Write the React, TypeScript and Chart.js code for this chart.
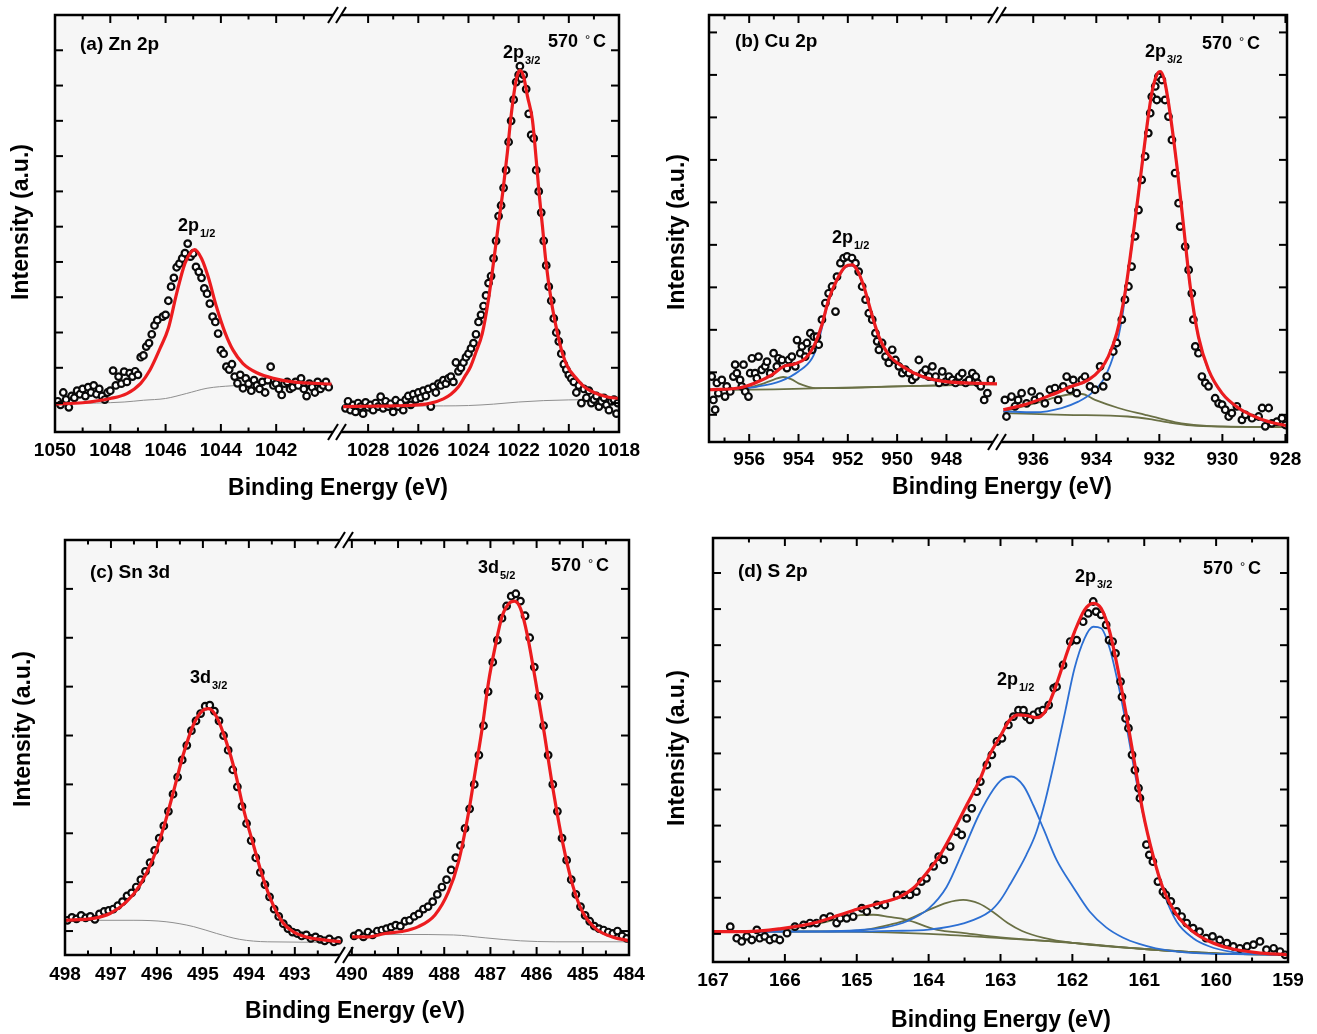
import React, { useEffect, useRef } from 'react';
import { Chart, registerables } from 'chart.js';

Chart.register(...registerables);

type P = [number, number];

// ===================== (a) Zn 2p =====================
const A_XLABELS_L = [1050, 1048, 1046, 1044, 1042];
const A_XLABELS_R = [1028, 1026, 1024, 1022, 1020, 1018];
const A_YTICKS = [0, 1, 2, 3, 4, 5, 6, 7, 8, 9, 10, 11];

const A_SCATTER_L: P[] = [
  [1049.9, 0.05], [1049.8, -0.05], [1049.7, 0.3], [1049.6, 0.1], [1049.5, -0.12], [1049.4, 0.2], [1049.3, 0.15],
  [1049.2, 0.35], [1049.1, 0.25], [1049.0, 0.4], [1048.9, 0.2], [1048.8, 0.45], [1048.7, 0.3], [1048.6, 0.5],
  [1048.5, 0.25], [1048.4, 0.4], [1048.3, 0.2], [1048.2, 0.1], [1048.1, 0.3], [1048.0, 0.35], [1047.9, 0.92],
  [1047.8, 0.5], [1047.7, 0.75], [1047.6, 0.55], [1047.5, 0.89], [1047.4, 0.6], [1047.3, 0.85], [1047.2, 0.75],
  [1047.1, 0.9], [1047.0, 0.8], [1046.9, 1.3], [1046.8, 1.35], [1046.7, 1.6], [1046.6, 1.7], [1046.5, 1.95],
  [1046.4, 2.2], [1046.3, 2.35], [1046.1, 2.45], [1046.0, 2.5], [1045.9, 2.9], [1045.8, 3.3], [1045.7, 3.55],
  [1045.6, 3.85], [1045.5, 3.95], [1045.4, 4.1], [1045.3, 4.25], [1045.2, 4.52], [1045.1, 4.15], [1045.0, 4.24],
  [1044.9, 3.86], [1044.8, 3.72], [1044.7, 3.55], [1044.6, 3.25], [1044.5, 3.1], [1044.4, 2.82], [1044.3, 2.45],
  [1044.2, 2.3], [1044.1, 1.97], [1044.0, 1.5], [1043.9, 1.4], [1043.8, 1.03], [1043.7, 0.95], [1043.6, 1.1],
  [1043.5, 0.75], [1043.4, 0.56], [1043.3, 0.8], [1043.2, 0.42], [1043.1, 0.7], [1043.0, 0.55], [1042.9, 0.35],
  [1042.8, 0.65], [1042.7, 0.5], [1042.6, 0.4], [1042.5, 0.6], [1042.4, 0.3], [1042.3, 0.65], [1042.2, 1.03],
  [1042.1, 0.5], [1042.0, 0.55], [1041.9, 0.4], [1041.8, 0.23], [1041.7, 0.55], [1041.6, 0.6], [1041.5, 0.4],
  [1041.4, 0.45], [1041.3, 0.6], [1041.2, 0.5], [1041.1, 0.7], [1041.0, 0.4], [1040.9, 0.2], [1040.8, 0.55],
  [1040.7, 0.45], [1040.6, 0.3], [1040.5, 0.6], [1040.4, 0.4], [1040.3, 0.5], [1040.2, 0.6], [1040.1, 0.45],
];
const A_FIT_L: P[] = [
  [1050, -0.03], [1049, 0.01], [1048, 0.13], [1047.4, 0.27], [1046.9, 0.56], [1046.57, 0.93], [1046.2, 1.55],
  [1045.9, 2.12], [1045.6, 3.11], [1045.3, 3.96], [1045.07, 4.29], [1044.95, 4.35], [1044.7, 4.1], [1044.46, 3.58],
  [1044.16, 2.73], [1043.86, 2.02], [1043.56, 1.5], [1043.2, 1.12], [1042.7, 0.86], [1042.1, 0.7], [1041.4, 0.6],
  [1040, 0.54],
];
const A_BG_L: P[] = [
  [1050, -0.02], [1048.5, 0.0], [1047.5, 0.03], [1046.8, 0.08], [1046, 0.13], [1045.25, 0.27], [1044.5, 0.42],
  [1043.6, 0.49], [1042.5, 0.53], [1040, 0.55],
];
const A_SCATTER_R: P[] = [
  [1028.9, -0.15], [1028.8, 0.05], [1028.7, -0.2], [1028.6, -0.05], [1028.5, -0.25], [1028.4, 0.0], [1028.3, -0.1],
  [1028.2, -0.3], [1028.1, 0.02], [1028.0, -0.12], [1027.9, -0.05], [1027.8, -0.2], [1027.7, 0.0], [1027.6, -0.1],
  [1027.5, 0.18], [1027.4, -0.15], [1027.3, 0.05], [1027.2, -0.1], [1027.1, -0.02], [1027.0, -0.25], [1026.9, 0.08],
  [1026.8, -0.1], [1026.7, 0.0], [1026.6, -0.2], [1026.5, 0.1], [1026.4, 0.2], [1026.3, -0.05], [1026.2, 0.25],
  [1026.1, 0.1], [1026.0, 0.3], [1025.9, 0.15], [1025.8, 0.35], [1025.7, 0.2], [1025.6, 0.4], [1025.5, -0.1],
  [1025.4, 0.46], [1025.3, 0.3], [1025.2, 0.55], [1025.1, 0.5], [1025.0, 0.65], [1024.9, 0.55], [1024.8, 0.7],
  [1024.7, 0.75], [1024.6, 0.6], [1024.5, 1.15], [1024.4, 0.9], [1024.3, 1.0], [1024.2, 1.15], [1024.1, 1.3],
  [1024.0, 1.4], [1023.9, 1.55], [1023.8, 1.7], [1023.7, 1.95], [1023.6, 2.3], [1023.5, 2.5], [1023.4, 2.75],
  [1023.3, 3.05], [1023.2, 3.4], [1023.1, 3.6], [1023.0, 4.1], [1022.9, 4.6], [1022.8, 5.3], [1022.7, 5.6],
  [1022.6, 6.1], [1022.5, 6.6], [1022.4, 7.4], [1022.3, 8.0], [1022.2, 8.6], [1022.1, 9.1], [1022.0, 9.3],
  [1021.95, 9.55], [1021.9, 9.2], [1021.8, 9.3], [1021.7, 8.9], [1021.6, 8.2], [1021.5, 7.6], [1021.4, 7.5],
  [1021.3, 6.6], [1021.2, 6.0], [1021.1, 5.4], [1021.0, 4.6], [1020.9, 3.9], [1020.8, 3.3], [1020.7, 2.9],
  [1020.6, 2.4], [1020.5, 2.0], [1020.4, 1.75], [1020.3, 1.4], [1020.2, 1.1], [1020.1, 0.95], [1020.0, 0.8],
  [1019.9, 0.7], [1019.8, 0.6], [1019.7, 0.3], [1019.6, 0.5], [1019.5, 0.0], [1019.4, 0.4], [1019.3, 0.15],
  [1019.2, 0.35], [1019.1, 0.0], [1019.0, 0.1], [1018.9, 0.2], [1018.8, -0.1], [1018.7, 0.05], [1018.6, 0.15],
  [1018.5, -0.05], [1018.4, -0.2], [1018.3, 0.05], [1018.2, 0.1], [1018.1, -0.3], [1018.05, 0.0],
];
const A_FIT_R: P[] = [
  [1029.0, -0.1], [1028.0, -0.09], [1027.0, -0.08], [1026.0, -0.05], [1025.5, 0.0], [1025.0, 0.12], [1024.7, 0.25],
  [1024.4, 0.46], [1024.15, 0.75], [1023.92, 1.03], [1023.7, 1.45], [1023.45, 1.97], [1023.2, 2.95], [1022.99, 4.05],
  [1022.8, 5.1], [1022.63, 5.99], [1022.45, 7.1], [1022.32, 8.02], [1022.15, 8.95], [1022.05, 9.3], [1021.95, 9.43],
  [1021.8, 9.25], [1021.65, 8.7], [1021.45, 8.02], [1021.3, 6.9], [1021.19, 5.99], [1021.05, 5.0], [1020.92, 4.05],
  [1020.7, 2.9], [1020.45, 1.97], [1020.25, 1.4], [1020.05, 1.03], [1019.7, 0.7], [1019.39, 0.46], [1019.0, 0.3],
  [1018.5, 0.18], [1018.0, 0.13],
];
const A_BG_R: P[] = [
  [1029, -0.08], [1025, -0.08], [1024, -0.07], [1023, -0.03], [1022, 0.03], [1021, 0.07], [1020, 0.09], [1018, 0.1],
];

// ===================== (b) Cu 2p =====================
const B_XLABELS_L = [956, 954, 952, 950, 948];
const B_XLABELS_R = [936, 934, 932, 930, 928];
const B_YTICKS = [0, 1, 2, 3, 4, 5, 6, 7, 8, 9];

const B_SCATTER_L: P[] = [
  [957.52, 0.9], [957.45, 0.35], [957.38, 0.12], [957.31, 0.75], [957.25, 0.51], [957.11, 0.82], [956.98, 0.43],
  [956.91, 0.67], [956.77, 0.55], [956.64, 0.9], [956.57, 1.18], [956.5, 0.98], [956.37, 0.82], [956.3, 0.67],
  [956.23, 1.18], [956.16, 0.55], [956.03, 0.43], [955.96, 0.98], [955.89, 1.33], [955.76, 0.98], [955.69, 0.86],
  [955.62, 1.37], [955.49, 1.06], [955.35, 1.14], [955.28, 1.25], [955.15, 0.98], [955.01, 1.45], [954.88, 1.14],
  [954.81, 1.33], [954.67, 1.29], [954.47, 1.1], [954.4, 1.29], [954.27, 1.37], [954.13, 1.14], [954.06, 1.76],
  [953.93, 1.45], [953.86, 1.61], [953.73, 1.37], [953.66, 1.69], [953.52, 1.92], [953.45, 1.53], [953.38, 1.84],
  [953.25, 1.84], [953.18, 1.65], [953.05, 2.24], [952.91, 2.63], [952.78, 2.86], [952.64, 3.02], [952.5, 2.43],
  [952.44, 3.25], [952.3, 3.57], [952.17, 3.69], [952.03, 3.73], [951.83, 3.69], [951.69, 3.57], [951.56, 3.37],
  [951.42, 3.02], [951.28, 2.71], [951.15, 2.39], [951.01, 2.24], [950.88, 1.92], [950.81, 1.73], [950.74, 1.53],
  [950.61, 1.69], [950.47, 1.37], [950.34, 1.22], [950.2, 1.53], [950.07, 1.29], [949.93, 1.14], [949.79, 0.98],
  [949.66, 1.06], [949.52, 0.98], [949.39, 0.82], [949.25, 0.9], [949.12, 1.29], [948.98, 0.98], [948.85, 1.06],
  [948.71, 0.9], [948.57, 1.14], [948.44, 0.9], [948.3, 0.75], [948.17, 1.02], [948.03, 0.78], [947.9, 0.9],
  [947.76, 0.82], [947.63, 0.75], [947.49, 0.9], [947.36, 0.98], [947.22, 0.75], [947.08, 0.82], [946.95, 0.98],
  [946.81, 0.9], [946.74, 0.75], [946.61, 0.67], [946.47, 0.35], [946.34, 0.51], [946.2, 0.82],
];
const B_FIT_L: P[] = [
  [957.63, 0.59], [956.43, 0.63], [955.76, 0.75], [955.08, 0.94], [954.6, 1.14], [954.13, 1.2], [953.72, 1.33],
  [953.38, 1.61], [953.05, 2.12], [952.78, 2.71], [952.44, 3.18], [952.1, 3.49], [951.83, 3.53], [951.62, 3.41],
  [951.35, 3.02], [951.08, 2.47], [950.74, 1.84], [950.34, 1.41], [949.79, 1.14], [948.98, 0.9], [948.03, 0.78],
  [945.95, 0.73],
];
const B_MAIN_L: P[] = [
  [957.63, 0.58], [956.5, 0.61], [955.7, 0.66], [954.7, 0.8], [954.0, 1.02], [953.45, 1.33], [953.2, 1.69],
  [953.05, 2.05], [952.78, 2.68], [952.44, 3.16], [952.1, 3.47], [951.83, 3.51], [951.62, 3.39], [951.35, 3.0],
  [951.08, 2.45], [950.74, 1.82], [950.34, 1.39], [949.79, 1.12], [948.98, 0.88], [948.03, 0.77], [945.95, 0.72],
];
const B_SAT_L: P[] = [
  [957.63, 0.59], [956.6, 0.6], [956.0, 0.64], [955.5, 0.72], [955.0, 0.83], [954.62, 0.89], [954.3, 0.84],
  [954.0, 0.74], [953.6, 0.66], [953.3, 0.63], [952.5, 0.63], [950, 0.67], [945.95, 0.72],
];
const B_BG_L: P[] = [[957.63, 0.58], [955, 0.6], [953, 0.63], [950, 0.67], [945.95, 0.72]];

const B_SCATTER_R: P[] = [
  [936.9, 0.35], [936.85, -0.04], [936.69, 0.43], [936.58, 0.2], [936.48, 0.35], [936.37, 0.51], [936.21, 0.27],
  [936.05, 0.55], [935.95, 0.35], [935.79, 0.43], [935.63, 0.27], [935.47, 0.59], [935.31, 0.63], [935.21, 0.35],
  [935.05, 0.67], [934.94, 0.9], [934.83, 0.59], [934.73, 0.82], [934.62, 0.51], [934.46, 0.82], [934.36, 0.9],
  [934.2, 0.67], [934.04, 0.59], [933.88, 1.14], [933.78, 0.67], [933.67, 0.9], [933.46, 1.49], [933.35, 1.69],
  [933.19, 2.24], [933.09, 2.71], [932.98, 3.02], [932.88, 3.49], [932.77, 4.2], [932.66, 4.82], [932.56, 5.53],
  [932.45, 6.08], [932.35, 6.63], [932.29, 7.1], [932.24, 7.49], [932.13, 7.73], [932.08, 7.41], [932.03, 7.96],
  [931.92, 7.88], [931.82, 7.41], [931.71, 7.02], [931.6, 6.47], [931.5, 5.69], [931.39, 4.98], [931.34, 4.43],
  [931.18, 3.96], [931.07, 3.41], [930.97, 2.86], [930.92, 2.24], [930.86, 1.61], [930.76, 1.45], [930.65, 0.9],
  [930.54, 0.75], [930.44, 0.67], [930.23, 0.39], [930.12, 0.27], [930.01, 0.24], [929.91, 0.12], [929.8, -0.04],
  [929.7, 0.04], [929.54, 0.2], [929.38, -0.12], [929.27, 0.0], [929.06, -0.08], [928.85, -0.04], [928.74, 0.16],
  [928.64, -0.27], [928.53, 0.16], [928.43, -0.2], [928.27, -0.16], [928.11, -0.08], [928.0, -0.24],
];
const B_FIT_R: P[] = [
  [936.95, 0.12], [936.26, 0.24], [935.42, 0.47], [934.78, 0.67], [934.25, 0.82], [933.88, 1.06], [933.62, 1.37],
  [933.35, 1.92], [933.09, 2.86], [932.88, 3.96], [932.66, 5.22], [932.45, 6.47], [932.24, 7.57], [932.08, 8.0],
  [931.97, 8.08], [931.84, 7.88], [931.66, 7.1], [931.44, 5.84], [931.23, 4.43], [931.02, 3.02], [930.76, 1.84],
  [930.44, 1.06], [930.01, 0.51], [929.49, 0.16], [928.85, -0.08], [928.43, -0.18], [927.95, -0.26],
];
const B_MAIN_R: P[] = [
  [936.95, 0.08], [935.95, 0.06], [935.1, 0.16], [934.57, 0.31], [934.15, 0.51], [933.72, 0.9], [933.4, 1.53],
  [933.19, 2.24], [933.05, 3.0], [932.88, 3.94], [932.66, 5.2], [932.45, 6.45], [932.24, 7.55], [932.08, 7.98],
  [931.97, 8.06], [931.84, 7.86], [931.66, 7.08], [931.44, 5.82], [931.23, 4.41], [931.02, 3.0], [930.76, 1.82],
  [930.44, 1.04], [930.01, 0.49], [929.49, 0.14], [928.85, -0.1], [928.43, -0.2], [927.95, -0.27],
];
const B_SAT_R: P[] = [
  [936.95, 0.08], [935.95, 0.27], [935.2, 0.43], [934.7, 0.49], [934.46, 0.49], [934.04, 0.35], [933.3, 0.16],
  [932.45, 0.0], [931.9, -0.1], [931.3, -0.2], [930.5, -0.26], [927.95, -0.29],
];
const B_BG_R: P[] = [
  [936.95, 0.04], [935, 0.0], [933, -0.04], [932.3, -0.1], [931.7, -0.18], [931, -0.25], [930, -0.28], [927.95, -0.29],
];

// ===================== (c) Sn 3d =====================
const C_XLABELS_L = [498, 497, 496, 495, 494, 493];
const C_XLABELS_R = [490, 489, 488, 487, 486, 485, 484];
const C_YTICKS = [0, 1, 2, 3, 4, 5, 6, 7, 8];

const C_SCATTER_L: P[] = [
  [497.95, 0.22], [497.85, 0.28], [497.75, 0.25], [497.65, 0.32], [497.55, 0.27], [497.45, 0.3], [497.35, 0.24],
  [497.25, 0.35], [497.15, 0.4], [497.05, 0.42], [496.95, 0.45], [496.85, 0.52], [496.75, 0.6], [496.65, 0.72],
  [496.55, 0.78], [496.45, 0.9], [496.35, 1.05], [496.25, 1.22], [496.15, 1.4], [496.05, 1.65], [495.95, 1.9],
  [495.85, 2.15], [495.75, 2.45], [495.65, 2.8], [495.55, 3.15], [495.45, 3.5], [495.35, 3.8], [495.25, 4.1],
  [495.15, 4.3], [495.05, 4.45], [494.95, 4.6], [494.85, 4.62], [494.75, 4.5], [494.65, 4.3], [494.55, 4.0],
  [494.45, 3.7], [494.35, 3.3], [494.25, 2.95], [494.15, 2.55], [494.05, 2.2], [493.95, 1.85], [493.85, 1.5],
  [493.75, 1.2], [493.65, 0.95], [493.55, 0.7], [493.45, 0.45], [493.35, 0.3], [493.25, 0.15], [493.15, 0.05],
  [493.05, -0.02], [492.95, -0.05], [492.85, -0.1], [492.75, -0.08], [492.65, -0.15], [492.55, -0.12],
  [492.45, -0.17], [492.35, -0.2], [492.25, -0.16], [492.15, -0.22], [492.05, -0.19],
];
const C_FIT_L: P[] = [
  [498, 0.22], [497.38, 0.26], [497.02, 0.36], [496.66, 0.6], [496.37, 0.94], [496.08, 1.49], [495.86, 2.1],
  [495.64, 2.85], [495.43, 3.6], [495.21, 4.21], [495.03, 4.49], [494.88, 4.55], [494.7, 4.38], [494.49, 3.87],
  [494.3, 3.26], [494.12, 2.51], [493.9, 1.76], [493.69, 1.08], [493.47, 0.53], [493.25, 0.16], [493.04, -0.01],
  [492.75, -0.12], [492.38, -0.18], [492.0, -0.22],
];
const C_BG_L: P[] = [
  [498, 0.22], [496.5, 0.22], [495.8, 0.19], [495.2, 0.09], [494.7, -0.05], [494.2, -0.17], [493.6, -0.22], [492, -0.23],
];
const C_SCATTER_R: P[] = [
  [489.95, -0.1], [489.85, -0.05], [489.75, -0.12], [489.65, -0.02], [489.55, -0.08], [489.45, 0.0], [489.35, 0.02],
  [489.25, 0.05], [489.15, 0.08], [489.05, 0.12], [488.95, 0.1], [488.85, 0.2], [488.75, 0.22], [488.65, 0.3],
  [488.55, 0.35], [488.45, 0.45], [488.35, 0.5], [488.25, 0.6], [488.15, 0.75], [488.05, 0.9], [487.95, 1.05],
  [487.85, 1.25], [487.75, 1.5], [487.65, 1.75], [487.55, 2.1], [487.45, 2.5], [487.35, 3.0], [487.25, 3.6],
  [487.15, 4.2], [487.05, 4.9], [486.95, 5.5], [486.85, 5.95], [486.75, 6.4], [486.65, 6.65], [486.55, 6.85],
  [486.45, 6.9], [486.35, 6.75], [486.25, 6.45], [486.15, 6.0], [486.05, 5.4], [485.95, 4.8], [485.85, 4.2],
  [485.75, 3.6], [485.65, 3.0], [485.55, 2.45], [485.45, 1.9], [485.35, 1.45], [485.25, 1.05], [485.15, 0.75],
  [485.05, 0.5], [484.95, 0.32], [484.85, 0.2], [484.75, 0.1], [484.65, 0.05], [484.55, 0.02], [484.45, -0.02],
  [484.35, -0.05], [484.25, 0.0], [484.15, -0.1], [484.05, -0.15],
];
const C_FIT_R: P[] = [
  [490, -0.12], [489.64, -0.12], [489.28, -0.05], [488.92, -0.01], [488.56, 0.09], [488.2, 0.33], [487.91, 0.8],
  [487.69, 1.42], [487.47, 2.44], [487.33, 3.26], [487.18, 4.14], [487.04, 5.1], [486.89, 5.85], [486.75, 6.43],
  [486.6, 6.7], [486.48, 6.75], [486.35, 6.6], [486.2, 6.05], [486.02, 5.1], [485.84, 4.08], [485.66, 2.99],
  [485.44, 1.83], [485.22, 0.94], [485.01, 0.4], [484.72, 0.05], [484.36, -0.12], [484.0, -0.2],
];
const C_BG_R: P[] = [
  [490, -0.08], [488.9, -0.07], [487.8, -0.08], [487.1, -0.14], [486.35, -0.2], [485.6, -0.22], [484, -0.22],
];

// ===================== (d) S 2p =====================
const D_XLABELS = [167, 166, 165, 164, 163, 162, 161, 160, 159];
const D_YTICKS = [0, 1, 2, 3, 4, 5, 6, 7, 8, 9, 10];

const D_SCATTER: P[] = [
  [166.76, 0.2], [166.67, -0.12], [166.6, -0.21], [166.53, -0.07], [166.46, -0.17], [166.39, 0.11], [166.35, -0.12],
  [166.28, -0.07], [166.21, -0.17], [166.14, -0.12], [166.07, -0.17], [165.97, 0.02], [165.86, 0.2], [165.74, 0.25],
  [165.65, 0.3], [165.56, 0.3], [165.46, 0.43], [165.37, 0.48], [165.28, 0.3], [165.23, 0.43], [165.14, 0.43],
  [165.05, 0.48], [164.93, 0.71], [164.86, 0.62], [164.72, 0.8], [164.61, 0.8], [164.44, 1.08], [164.35, 1.08],
  [164.26, 1.08], [164.17, 1.17], [164.1, 1.45], [164.03, 1.54], [163.93, 1.87], [163.86, 2.14], [163.79, 2.05],
  [163.7, 2.42], [163.61, 2.83], [163.54, 2.74], [163.47, 3.2], [163.4, 3.48], [163.33, 3.94], [163.28, 4.22],
  [163.19, 4.68], [163.12, 4.96], [163.05, 5.33], [162.98, 5.42], [162.89, 5.79], [162.82, 6.02], [162.75, 6.2],
  [162.68, 6.2], [162.64, 6.02], [162.59, 5.93], [162.54, 6.07], [162.47, 6.16], [162.41, 6.2], [162.33, 6.34],
  [162.26, 6.81], [162.22, 6.85], [162.13, 7.45], [162.03, 8.1], [161.94, 8.14], [161.85, 8.65], [161.78, 8.88],
  [161.71, 9.21], [161.67, 8.93], [161.6, 8.84], [161.53, 8.56], [161.49, 8.14], [161.44, 8.1], [161.4, 7.77],
  [161.33, 6.99], [161.31, 6.57], [161.26, 5.97], [161.22, 5.7], [161.17, 4.96], [161.13, 4.54], [161.08, 4.04],
  [161.06, 3.76], [160.97, 2.47], [160.93, 2.19], [160.88, 2.0], [160.81, 1.45], [160.74, 1.17], [160.7, 1.08],
  [160.63, 0.9], [160.55, 0.62], [160.48, 0.48], [160.41, 0.3], [160.32, 0.16], [160.23, 0.06], [160.14, -0.12],
  [160.05, -0.07], [159.95, -0.17], [159.85, -0.26], [159.76, -0.35], [159.67, -0.4], [159.57, -0.35],
  [159.48, -0.3], [159.39, -0.21], [159.3, -0.44], [159.2, -0.4], [159.11, -0.49], [159.04, -0.58],
];
const D_FIT: P[] = [
  [167, 0.06], [166.53, 0.06], [166.07, 0.14], [165.6, 0.3], [165.23, 0.53], [164.95, 0.71], [164.68, 0.85],
  [164.4, 1.03], [164.21, 1.27], [164.03, 1.68], [163.84, 2.19], [163.66, 2.83], [163.47, 3.57], [163.28, 4.31],
  [163.15, 4.96], [163.01, 5.45], [162.87, 5.93], [162.75, 6.07], [162.64, 6.05], [162.5, 5.99], [162.38, 6.16],
  [162.24, 6.81], [162.1, 7.64], [161.97, 8.37], [161.83, 8.98], [161.71, 9.16], [161.6, 9.02], [161.48, 8.37],
  [161.37, 7.36], [161.25, 6.07], [161.13, 4.68], [161.02, 3.39], [160.88, 2.19], [160.74, 1.27], [160.55, 0.53],
  [160.32, 0.06], [160.09, -0.21], [159.81, -0.4], [159.44, -0.52], [159, -0.58],
];
const D_P32: P[] = [
  [167, 0.06], [165, 0.06], [164.5, 0.08], [164, 0.12], [163.5, 0.3], [163.15, 0.62], [163.0, 0.94], [162.87, 1.36],
  [162.64, 2.19], [162.5, 2.83], [162.38, 3.67], [162.24, 4.87], [162.1, 6.16], [161.97, 7.36], [161.83, 8.19],
  [161.71, 8.51], [161.6, 8.47], [161.48, 7.91], [161.37, 6.99], [161.25, 5.79], [161.13, 4.45], [161.02, 3.35],
  [160.88, 2.19], [160.74, 1.2], [160.55, 0.34], [160.32, -0.12], [160.09, -0.35], [159.81, -0.49], [159.4, -0.56],
  [159, -0.58],
];
const D_P12: P[] = [
  [167, 0.06], [165.5, 0.07], [165, 0.1], [164.6, 0.18], [164.3, 0.35], [164.0, 0.7], [163.75, 1.3], [163.52, 2.3],
  [163.3, 3.3], [163.1, 4.0], [162.98, 4.28], [162.85, 4.36], [162.68, 4.1], [162.54, 3.55], [162.4, 2.9],
  [162.22, 2.05], [161.99, 1.3], [161.76, 0.62], [161.53, 0.18], [161.3, -0.1], [161.07, -0.28], [160.84, -0.4],
  [160.4, -0.52], [159.5, -0.57], [159, -0.58],
];
const D_SAT1: P[] = [
  [167, 0.06], [166.5, 0.07], [166.07, 0.11], [165.6, 0.25], [165.23, 0.43], [164.95, 0.52], [164.77, 0.53],
  [164.55, 0.47], [164.3, 0.39], [164.0, 0.18], [163.88, 0.11], [163.5, 0.02], [163.0, -0.1], [162.0, -0.25],
  [161, -0.42], [160, -0.54], [159, -0.58],
];
const D_SAT2: P[] = [
  [167, 0.06], [165.5, 0.07], [165.0, 0.09], [164.8, 0.14], [164.55, 0.25], [164.3, 0.39], [164.0, 0.66],
  [163.75, 0.86], [163.52, 0.94], [163.3, 0.84], [163.1, 0.6], [162.9, 0.3], [162.7, 0.08], [162.4, -0.11],
  [162.0, -0.25], [161, -0.42], [160, -0.54], [159, -0.58],
];
const D_BG: P[] = [
  [167, 0.06], [165.5, 0.06], [164.8, 0.05], [164, 0.0], [163, -0.12], [162, -0.25], [161, -0.42], [160, -0.54],
  [159, -0.58],
];

// ===================== styling / layout =====================
const FF = "'Liberation Sans', Arial, Helvetica, sans-serif";
const RED = '#ec1c1f';
const BLUE = '#2c6fd3';
const OLIVE = '#6a7045';
const GRAY = '#8f8f8f';

type Kind = 'pts' | 'fit' | 'blue' | 'olive' | 'bg';
interface Seg { id: string; min: number; max: number; weight: number; labels: number[] }
interface Series { seg: string; data: P[]; kind: Kind }
interface Peak { main: string; sub: string; x: number; y: number }
interface Panel {
  key: string;
  canvas: { left: number; top: number; width: number; height: number };
  frame: { l: number; t: number; r: number; b: number };
  yMin: number; yMax: number; yTicks: number[];
  segs: Seg[];
  series: Series[];
  title: { text: string; x: number; y: number };
  temp: { x: number; y: number };
  peaks: Peak[];
  tickLabelY: number;
  xTitle: { x: number; y: number };
  yTitle: { x: number; y: number };
}

const PANELS: Panel[] = [
  {
    key: 'a',
    canvas: { left: 0, top: 0, width: 655, height: 515 },
    frame: { l: 55, t: 15, r: 619, b: 432 },
    yMin: -0.82, yMax: 11.0, yTicks: A_YTICKS,
    segs: [
      { id: 'xL', min: 1039.8, max: 1050, weight: 282, labels: A_XLABELS_L },
      { id: 'xR', min: 1018, max: 1029.24, weight: 282, labels: A_XLABELS_R },
    ],
    series: [
      { seg: 'xL', data: A_FIT_L, kind: 'fit' }, { seg: 'xR', data: A_FIT_R, kind: 'fit' },
      { seg: 'xL', data: A_SCATTER_L, kind: 'pts' }, { seg: 'xR', data: A_SCATTER_R, kind: 'pts' },
      { seg: 'xL', data: A_BG_L, kind: 'bg' }, { seg: 'xR', data: A_BG_R, kind: 'bg' },
    ],
    title: { text: '(a) Zn 2p', x: 80, y: 50 },
    temp: { x: 548, y: 47 },
    peaks: [{ main: '2p', sub: '1/2', x: 178, y: 231 }, { main: '2p', sub: '3/2', x: 503, y: 58 }],
    tickLabelY: 451,
    xTitle: { x: 338, y: 489 },
    yTitle: { x: 22, y: 222 },
  },
  {
    key: 'b',
    canvas: { left: 655, top: 0, width: 662, height: 515 },
    frame: { l: 709, t: 15, r: 1287, b: 442 },
    yMin: -0.64, yMax: 9.41, yTicks: B_YTICKS,
    segs: [
      { id: 'xL', min: 945.95, max: 957.63, weight: 288, labels: B_XLABELS_L },
      { id: 'xR', min: 927.95, max: 937.15, weight: 290, labels: B_XLABELS_R },
    ],
    series: [
      { seg: 'xL', data: B_FIT_L, kind: 'fit' }, { seg: 'xR', data: B_FIT_R, kind: 'fit' },
      { seg: 'xL', data: B_SCATTER_L, kind: 'pts' }, { seg: 'xR', data: B_SCATTER_R, kind: 'pts' },
      { seg: 'xL', data: B_MAIN_L, kind: 'blue' }, { seg: 'xR', data: B_MAIN_R, kind: 'blue' },
      { seg: 'xL', data: B_SAT_L, kind: 'olive' }, { seg: 'xR', data: B_SAT_R, kind: 'olive' },
      { seg: 'xL', data: B_BG_L, kind: 'olive' }, { seg: 'xR', data: B_BG_R, kind: 'olive' },
    ],
    title: { text: '(b) Cu 2p', x: 735, y: 47 },
    temp: { x: 1202, y: 49 },
    peaks: [{ main: '2p', sub: '1/2', x: 832, y: 243 }, { main: '2p', sub: '3/2', x: 1145, y: 57 }],
    tickLabelY: 460,
    xTitle: { x: 1002, y: 488 },
    yTitle: { x: 678, y: 232 },
  },
  {
    key: 'c',
    canvas: { left: 0, top: 515, width: 655, height: 519 },
    frame: { l: 65, t: 540, r: 629, b: 955 },
    yMin: -0.49, yMax: 8.0, yTicks: C_YTICKS,
    segs: [
      { id: 'xL', min: 491.93, max: 498, weight: 279, labels: C_XLABELS_L },
      { id: 'xR', min: 484, max: 490.17, weight: 285, labels: C_XLABELS_R },
    ],
    series: [
      { seg: 'xL', data: C_FIT_L, kind: 'fit' }, { seg: 'xR', data: C_FIT_R, kind: 'fit' },
      { seg: 'xL', data: C_SCATTER_L, kind: 'pts' }, { seg: 'xR', data: C_SCATTER_R, kind: 'pts' },
      { seg: 'xL', data: C_BG_L, kind: 'bg' }, { seg: 'xR', data: C_BG_R, kind: 'bg' },
    ],
    title: { text: '(c) Sn 3d', x: 90, y: 578 },
    temp: { x: 551, y: 571 },
    peaks: [{ main: '3d', sub: '3/2', x: 190, y: 683 }, { main: '3d', sub: '5/2', x: 478, y: 573 }],
    tickLabelY: 975,
    xTitle: { x: 355, y: 1012 },
    yTitle: { x: 24, y: 729 },
  },
  {
    key: 'd',
    canvas: { left: 655, top: 515, width: 662, height: 519 },
    frame: { l: 713, t: 538, r: 1288, b: 962 },
    yMin: -0.78, yMax: 10.97, yTicks: D_YTICKS,
    segs: [{ id: 'x', min: 159, max: 167, weight: 1, labels: D_XLABELS }],
    series: [
      { seg: 'x', data: D_FIT, kind: 'fit' },
      { seg: 'x', data: D_SCATTER, kind: 'pts' },
      { seg: 'x', data: D_P32, kind: 'blue' }, { seg: 'x', data: D_P12, kind: 'blue' },
      { seg: 'x', data: D_SAT1, kind: 'olive' }, { seg: 'x', data: D_SAT2, kind: 'olive' },
      { seg: 'x', data: D_BG, kind: 'olive' },
    ],
    title: { text: '(d) S 2p', x: 738, y: 577 },
    temp: { x: 1203, y: 574 },
    peaks: [{ main: '2p', sub: '1/2', x: 997, y: 685 }, { main: '2p', sub: '3/2', x: 1075, y: 582 }],
    tickLabelY: 981,
    xTitle: { x: 1001, y: 1021 },
    yTitle: { x: 678, y: 748 },
  },
];

function makeDataset(s: Series): any {
  const base = { data: s.data.map(([x, y]) => ({ x, y })), xAxisID: s.seg, yAxisID: 'y' };
  switch (s.kind) {
    case 'pts':
      return {
        ...base, showLine: false, pointStyle: 'circle', pointRadius: 3.3, pointBorderWidth: 2.2,
        pointBorderColor: '#0a0a0a', pointBackgroundColor: '#ffffff', order: 1,
      };
    case 'fit':
      return {
        ...base, showLine: true, borderColor: RED, borderWidth: 3.2, pointRadius: 0,
        cubicInterpolationMode: 'monotone', order: 0,
      };
    case 'blue':
      return {
        ...base, showLine: true, borderColor: BLUE, borderWidth: 1.8, pointRadius: 0,
        cubicInterpolationMode: 'monotone', order: 2,
      };
    case 'olive':
      return {
        ...base, showLine: true, borderColor: OLIVE, borderWidth: 1.8, pointRadius: 0,
        cubicInterpolationMode: 'monotone', order: 3,
      };
    default:
      return {
        ...base, showLine: true, borderColor: GRAY, borderWidth: 1, pointRadius: 0,
        cubicInterpolationMode: 'monotone', order: 4,
      };
  }
}

function makePlugin(p: Panel) {
  return {
    id: 'xpsFrame_' + p.key,
    beforeDraw(chart: any) {
      const { ctx, chartArea: a } = chart;
      ctx.save();
      ctx.fillStyle = '#f6f6f6';
      ctx.fillRect(a.left, a.top, a.right - a.left, a.bottom - a.top);
      ctx.restore();
    },
    afterDraw(chart: any) {
      const ctx: CanvasRenderingContext2D = chart.ctx;
      const ox = p.canvas.left;
      const oy = p.canvas.top;
      const f = p.frame;
      ctx.save();
      ctx.translate(-ox, -oy);
      ctx.strokeStyle = '#000';
      ctx.fillStyle = '#000';
      ctx.lineCap = 'butt';
      const seg = (x1: number, y1: number, x2: number, y2: number) => {
        ctx.beginPath(); ctx.moveTo(x1, y1); ctx.lineTo(x2, y2); ctx.stroke();
      };

      // y ticks (inward, both sides)
      const yS = chart.scales.y;
      ctx.lineWidth = 2;
      for (const v of p.yTicks) {
        const py = yS.getPixelForValue(v) + oy;
        if (py < f.t + 2 || py > f.b - 2) continue;
        seg(f.l, py, f.l + 8, py);
        seg(f.r, py, f.r - 8, py);
      }

      // x ticks and labels
      const breaks: number[] = [];
      ctx.font = `bold 19px ${FF}`;
      ctx.textAlign = 'center';
      ctx.textBaseline = 'middle';
      p.segs.forEach((s, i) => {
        const sc = chart.scales[s.id];
        const left = sc.left + ox;
        const right = sc.right + ox;
        const n = p.segs.length;
        if (i < n - 1) breaks.push(right);
        const nearBreak = (px: number) =>
          (i > 0 && Math.abs(px - left) < 7) || (i < n - 1 && Math.abs(px - right) < 7);
        const step = Math.abs(s.labels[1] - s.labels[0]);
        const minors = [s.labels[0] + step / 2, ...s.labels.map((m) => m - step / 2)];
        for (const v of minors) {
          if (v < s.min || v > s.max) continue;
          const px = sc.getPixelForValue(v) + ox;
          if (nearBreak(px)) continue;
          seg(px, f.t, px, f.t + 4.5);
          seg(px, f.b, px, f.b - 4.5);
        }
        for (const v of s.labels) {
          if (v < s.min || v > s.max) continue;
          const px = sc.getPixelForValue(v) + ox;
          if (nearBreak(px)) continue;
          seg(px, f.t, px, f.t + 8);
          seg(px, f.b, px, f.b - 8);
          ctx.fillText(String(v), px, p.tickLabelY);
        }
      });

      // frame
      ctx.lineWidth = 2.5;
      ctx.strokeRect(f.l, f.t, f.r - f.l, f.b - f.t);

      // axis breaks
      for (const X of breaks) {
        for (const yy of [f.t, f.b]) {
          ctx.fillStyle = '#ffffff';
          ctx.fillRect(X - 4, yy - 2.5, 8, 5);
          ctx.lineWidth = 2;
          seg(X - 9, yy + 8, X + 1, yy - 8);
          seg(X - 1, yy + 8, X + 9, yy - 8);
        }
      }
      ctx.fillStyle = '#000';

      // panel title
      ctx.textAlign = 'left';
      ctx.textBaseline = 'alphabetic';
      ctx.font = `bold 19px ${FF}`;
      ctx.fillText(p.title.text, p.title.x, p.title.y);

      // temperature
      ctx.font = `bold 18px ${FF}`;
      ctx.fillText('570', p.temp.x, p.temp.y);
      ctx.font = `13px ${FF}`;
      ctx.fillText('°', p.temp.x + 37, p.temp.y - 3);
      ctx.font = `bold 18px ${FF}`;
      ctx.fillText('C', p.temp.x + 45, p.temp.y);

      // peak labels with subscripts
      for (const pk of p.peaks) {
        ctx.font = `bold 18px ${FF}`;
        ctx.fillText(pk.main, pk.x, pk.y);
        const w = ctx.measureText(pk.main).width;
        ctx.font = `bold 11px ${FF}`;
        ctx.fillText(pk.sub, pk.x + w + 1, pk.y + 6);
      }

      // axis titles
      ctx.font = `bold 23px ${FF}`;
      ctx.textAlign = 'center';
      ctx.textBaseline = 'middle';
      ctx.fillText('Binding Energy (eV)', p.xTitle.x, p.xTitle.y);
      ctx.save();
      ctx.translate(p.yTitle.x, p.yTitle.y);
      ctx.rotate(-Math.PI / 2);
      ctx.fillText('Intensity (a.u.)', 0, 0);
      ctx.restore();

      ctx.restore();
    },
  };
}

function buildConfig(p: Panel): any {
  const scales: any = {};
  p.segs.forEach((s) => {
    scales[s.id] = {
      type: 'linear', position: 'bottom', min: s.min, max: s.max, reverse: true, display: false,
      ...(p.segs.length > 1 ? { stack: 'xs', stackWeight: s.weight } : {}),
    };
  });
  scales.y = { type: 'linear', position: 'left', min: p.yMin, max: p.yMax, display: false };
  const c = p.canvas;
  const f = p.frame;
  return {
    type: 'scatter',
    data: { datasets: p.series.map(makeDataset) },
    options: {
      responsive: false,
      animation: false,
      events: [],
      layout: {
        padding: { left: f.l - c.left, top: f.t - c.top, right: c.left + c.width - f.r, bottom: c.top + c.height - f.b },
      },
      plugins: { legend: { display: false }, tooltip: { enabled: false }, title: { display: false } },
      scales,
    },
    plugins: [makePlugin(p)],
  };
}

function PanelChart({ p }: { p: Panel }) {
  const ref = useRef<HTMLCanvasElement>(null);
  useEffect(() => {
    if (!ref.current) return;
    const chart = new Chart(ref.current, buildConfig(p));
    return () => chart.destroy();
  }, [p]);
  return (
    <canvas
      ref={ref}
      width={p.canvas.width}
      height={p.canvas.height}
      style={{ position: 'absolute', left: p.canvas.left, top: p.canvas.top, width: p.canvas.width, height: p.canvas.height }}
    />
  );
}

export default function App() {
  return (
    <div style={{ position: 'absolute', left: 0, top: 0, width: 1317, height: 1034, background: '#ffffff', overflow: 'hidden' }}>
      {PANELS.map((p) => (
        <PanelChart key={p.key} p={p} />
      ))}
    </div>
  );
}
